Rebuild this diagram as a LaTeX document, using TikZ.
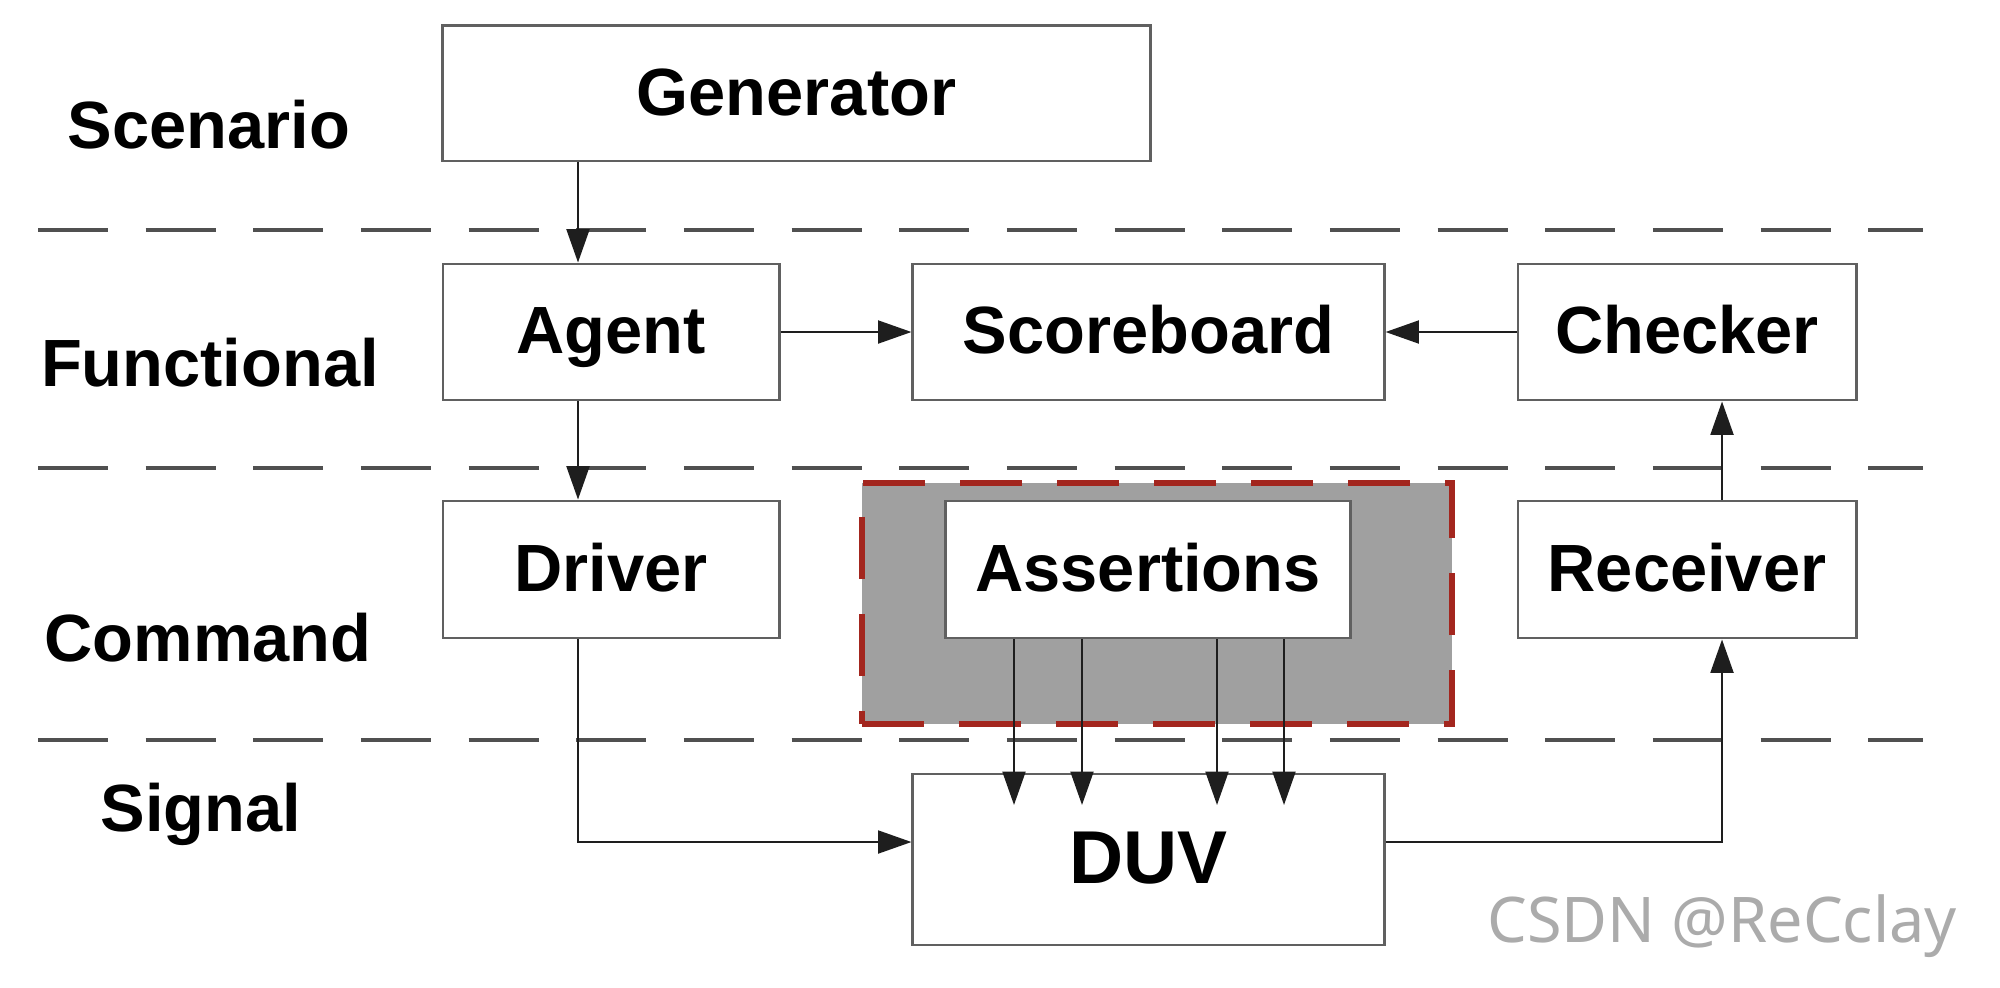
\documentclass[tikz,border=0pt]{standalone}
\usepackage{fontspec}
\setmainfont{Liberation Sans}
\newfontfamily\wmfont{Noto Sans}
\usetikzlibrary{arrows.meta}
\definecolor{boxline}{HTML}{606060}
\definecolor{sepline}{HTML}{505050}
\definecolor{redb}{HTML}{A3261E}
\definecolor{grayfill}{HTML}{A0A0A0}
\definecolor{wmgray}{HTML}{ABABAB}
\definecolor{arrowc}{HTML}{1E1E1E}
\begin{document}
\begin{tikzpicture}[x=0.01cm,y=-0.01cm,
  blk/.style={draw=boxline, line width=0.8pt, fill=white, inner sep=0pt,
    font=\fontsize{19}{23}\selectfont\bfseries, text height=13.7pt, text depth=1.2pt},
  lbl/.style={font=\fontsize{19}{23}\selectfont\bfseries, inner sep=0pt,
    text height=13.7pt, text depth=0pt},
  sepdash/.style={draw=sepline, line width=1.2pt, dash pattern=on 0.70cm off 0.376cm},
  zone/.style={draw=redb, fill=grayfill, line width=1.7pt, dash pattern=on 0.62cm off 0.35cm, inner sep=0pt},
  conn/.style={draw=arrowc, line width=0.7pt, -{Triangle[length=9.5pt,width=6.5pt]}},
]
\useasboundingbox (0,0) rectangle (2000,987);
\fill[white] (0,0) rectangle (2000,987);

% helper coordinates
\coordinate (colA) at (578,0);
\coordinate (colB) at (1722,0);
\coordinate (rowS) at (0,842);
\coordinate (tipRow) at (0,805);
\coordinate (s1l) at (38,229.6);  \coordinate (s1r) at (1923,229.6);
\coordinate (s2l) at (38,468);    \coordinate (s2r) at (1923,468);
\coordinate (s3l) at (38,740);    \coordinate (s3r) at (1923,740);

% layer separators
\draw[sepdash] (s1l) -- (s1r);
\draw[sepdash] (s2l) -- (s2r);
\draw[sepdash] (s3l) -- (s3r);

% assertion zone
\node[zone, minimum width=5.9cm, minimum height=2.41cm] (azone) at (1157,603.5) {};

% blocks
\node[blk, minimum width=7.07cm, minimum height=1.355cm] (gen) at (796.5,93.25) {Generator};
\node[blk, minimum width=3.36cm, minimum height=1.36cm] (agent) at (611,332) {Agent};
\node[blk, minimum width=4.71cm, minimum height=1.36cm] (score) at (1148.5,332) {Scoreboard};
\node[blk, minimum width=3.38cm, minimum height=1.36cm] (check) at (1687,332) {Checker};
\node[blk, minimum width=3.36cm, minimum height=1.37cm] (driver) at (611,569.5) {Driver};
\node[blk, minimum width=4.04cm, minimum height=1.37cm] (assert) at (1148,569.5) {Assertions};
\node[blk, minimum width=3.38cm, minimum height=1.37cm] (recv) at (1687,569.5) {Receiver};
\node[blk, minimum width=4.71cm, minimum height=1.71cm,
  font=\fontsize{21.3}{25}\selectfont\bfseries, text height=15.3pt, text depth=1.4pt] (duv) at (1148.5,859.5) {DUV};

% connectors
\draw[conn] (colA |- gen.south) -- (colA |- agent.north);
\draw[conn] (colA |- agent.south) -- (colA |- driver.north);
\draw[conn] (agent.east) -- (score.west);
\draw[conn] (check.west) -- (score.east);
\draw[conn] (colB |- recv.north) -- (colB |- check.south);
\draw[conn] (colA |- driver.south) |- (duv.west |- rowS);
\draw[conn] (duv.east |- rowS) -| (colB |- recv.south);
\foreach \xx in {1014,1082,1217,1284}
  \draw[conn] (\xx,0 |- assert.south) -- (\xx,0 |- tipRow);

% layer labels
\node[lbl] (lscen) at (209,124) {Scenario};
\node[lbl] (lfunc) at (210,362) {Functional};
\node[lbl] (lcmd) at (208,637) {Command};
\node[lbl] (lsig) at (201,807) {Signal};

% watermark
\node[font=\wmfont\fontsize{17.9}{21}\selectfont, text=wmgray, anchor=base, inner sep=0pt] (wm) at (1722,942) {CSDN @ReCclay};
\end{tikzpicture}
\end{document}
